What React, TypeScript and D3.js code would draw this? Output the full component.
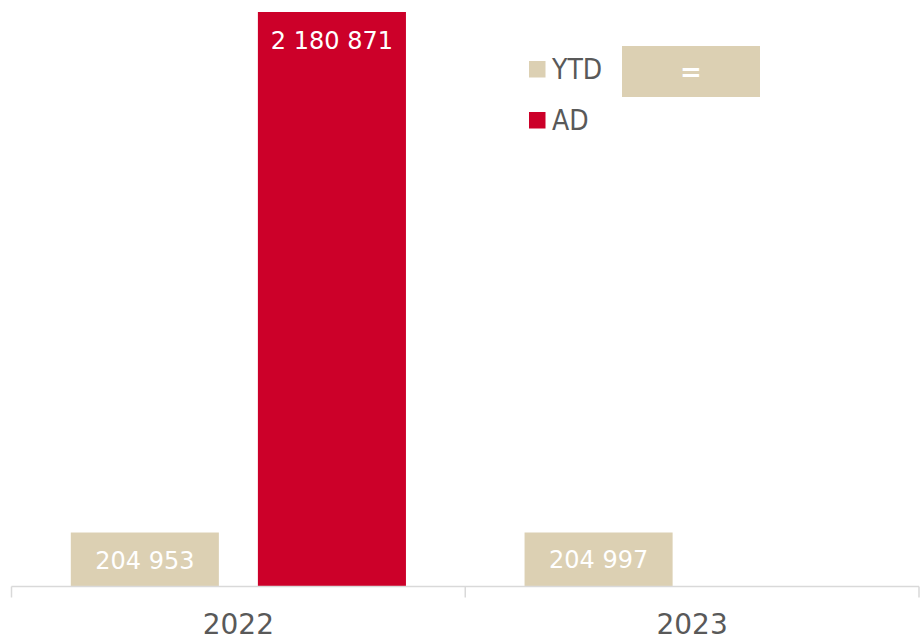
import { useEffect, useRef } from 'react';
import * as d3 from 'd3';

// chart data
const years = ['2022', '2023'];
const seriesNames = ['YTD', 'AD'];
const ytdValues = [204953, 204997];
const adValues: (number | null)[] = [2180871, null];
const compareLabel = '=';

const W = 921;
const H = 640;
const BEIGE = '#DCD0B3';
const RED = '#CC0029';
const TEXT = '#595959';
const AXIS = '#D9D9D9';
const FONT = '"DejaVu Sans", "Liberation Sans", sans-serif';
const NARROW = '"DejaVu Sans Condensed", "DejaVu Sans", sans-serif';

export default function App() {
  const ref = useRef<SVGSVGElement>(null);

  useEffect(() => {
    if (!ref.current) return;
    const svg = d3.select(ref.current);
    svg.selectAll('*').remove();

    const left = 11.5;
    const right = 919;
    const baseY = 586.5;
    const topY = 12;

    const x = d3.scaleBand<string>().domain(years).range([left, right]).padding(0);
    const xs = d3
      .scaleBand<string>()
      .domain(seriesNames)
      .range([0, x.bandwidth()])
      .paddingInner(0.2086)
      .paddingOuter(0.317);
    const y = d3.scaleLinear().domain([0, d3.max(adValues as number[]) ?? 1]).range([baseY, topY]);

    const rows = years.flatMap((yr, i) => [
      { yr, key: 'YTD', v: ytdValues[i], color: BEIGE },
      { yr, key: 'AD', v: adValues[i], color: RED },
    ]).filter((d) => d.v != null) as { yr: string; key: string; v: number; color: string }[];

    const g = svg.append('g');

    g.selectAll('rect.bar')
      .data(rows)
      .join('rect')
      .attr('class', 'bar')
      .attr('x', (d) => x(d.yr)! + xs(d.key)!)
      .attr('width', xs.bandwidth())
      .attr('y', (d) => y(d.v))
      .attr('height', (d) => baseY - y(d.v))
      .attr('fill', (d) => d.color);

    const fmt = (v: number) => d3.format(',')(v).replace(/,/g, ' ');

    g.selectAll('text.val')
      .data(rows)
      .join('text')
      .attr('class', 'val')
      .attr('x', (d) => x(d.yr)! + xs(d.key)! + xs.bandwidth() / 2)
      .attr('y', (d) => (d.key === 'AD' ? y(d.v) + 37 : (y(d.v) + baseY) / 2 + 9))
      .attr('text-anchor', 'middle')
      .attr('fill', '#fff')
      .attr('font-family', FONT)
      .attr('font-size', 24)
      .text((d) => fmt(d.v));

    // axis: baseline with ticks at band edges
    g.append('line')
      .attr('x1', left)
      .attr('x2', right)
      .attr('y1', baseY)
      .attr('y2', baseY)
      .attr('stroke', AXIS)
      .attr('stroke-width', 1.5);
    const edges = [...years.map((yr) => x(yr)!), right];
    g.selectAll('line.tick')
      .data(edges)
      .join('line')
      .attr('class', 'tick')
      .attr('x1', (d) => d)
      .attr('x2', (d) => d)
      .attr('y1', baseY)
      .attr('y2', baseY + 11)
      .attr('stroke', AXIS)
      .attr('stroke-width', 1.5);

    g.selectAll('text.cat')
      .data(years)
      .join('text')
      .attr('class', 'cat')
      .attr('x', (d) => x(d)! + x.bandwidth() / 2)
      .attr('y', 634)
      .attr('text-anchor', 'middle')
      .attr('fill', TEXT)
      .attr('font-family', FONT)
      .attr('font-size', 28)
      .text((d) => d);

    // legend
    const legend = [
      { name: seriesNames[0], color: BEIGE },
      { name: seriesNames[1], color: RED },
    ];
    const lg = g.append('g').attr('transform', 'translate(529,61)');
    legend.forEach((d, i) => {
      lg.append('rect').attr('x', 0).attr('y', i * 51).attr('width', 16.5).attr('height', 16.5).attr('fill', d.color);
      lg.append('text')
        .attr('x', 23)
        .attr('y', i * 51 + 18)
        .attr('fill', TEXT)
        .attr('font-family', NARROW)
        .attr('font-size', 28)
        .text(d.name);
    });

    // comparison box
    g.append('rect').attr('x', 622).attr('y', 46).attr('width', 138).attr('height', 51).attr('fill', BEIGE);
    g.append('text')
      .attr('x', 691)
      .attr('y', 81)
      .attr('text-anchor', 'middle')
      .attr('fill', '#fff')
      .attr('font-family', FONT)
      .attr('font-weight', 'bold')
      .attr('font-size', 26)
      .text(compareLabel);
  }, []);

  return (
    <svg
      ref={ref}
      width={W}
      height={H}
      style={{ position: 'absolute', left: 0, top: 0, background: '#fff' }}
    />
  );
}
